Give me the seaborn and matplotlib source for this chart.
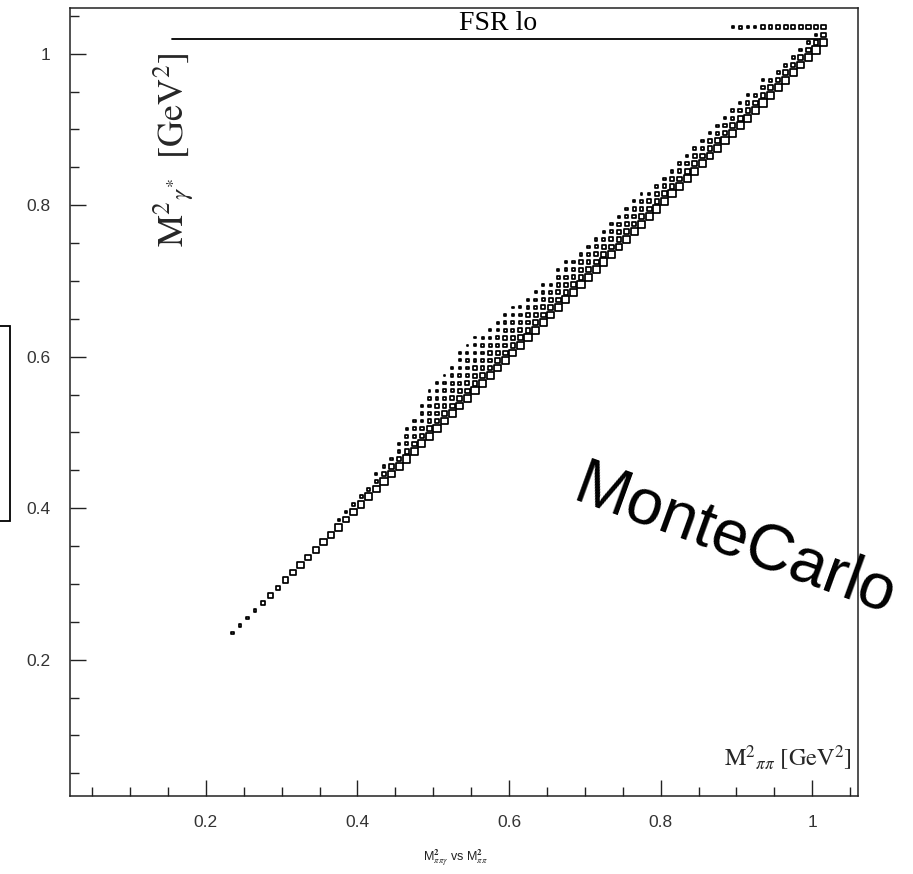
import numpy as np
import pandas as pd
import matplotlib
matplotlib.use("Agg")
import matplotlib.pyplot as plt
import seaborn as sns
from matplotlib.patches import Rectangle
from matplotlib.ticker import MultipleLocator, FixedLocator

# ---------------- data ----------------
bin_width = 0.01
axis_range = (0.02, 1.06)

# relative box side (0..1) along the diagonal y = x + k*bin_width
diag0_start = 0.235
diag0 = [0.3, 0.3, 0.3, 0.3, 0.5, 0.65, 0.5, 0.7, 0.65, 0.8,
         0.7, 0.8, 0.8, 0.75, 0.85, 0.7, 0.85, 0.8, 0.85, 0.8,
         0.9, 0.8, 0.85, 0.9, 0.85, 0.9, 0.85, 0.9, 0.85, 0.9,
         0.85, 0.9, 0.9, 0.85, 0.9, 0.85, 0.9, 0.85, 0.9, 0.9,
         0.85, 0.9, 0.85, 0.9, 0.9, 0.85, 0.9, 0.9, 0.85, 0.9,
         0.9, 0.85, 0.9, 0.9, 0.85, 0.9, 0.9, 0.85, 0.9, 0.9,
         0.85, 0.9, 0.9, 0.85, 0.9, 0.9, 0.85, 0.9, 0.9, 0.85,
         0.9, 0.9, 0.85, 0.9, 0.9, 0.85, 0.9, 0.9, 0.85]
diag1_start = 0.375
diag1 = [0.25, 0.3, 0.35, 0.35, 0.4, 0.45, 0.5, 0.55, 0.55, 0.55,
         0.55, 0.55, 0.55, 0.6, 0.55, 0.6, 0.6, 0.55, 0.6, 0.6,
         0.55, 0.6, 0.6, 0.55, 0.6, 0.6, 0.55, 0.6, 0.6, 0.55,
         0.6, 0.6, 0.6, 0.55, 0.6, 0.6, 0.55, 0.6, 0.6, 0.55,
         0.6, 0.6, 0.55, 0.6, 0.6, 0.55, 0.6, 0.6, 0.55, 0.6,
         0.6, 0.55, 0.6, 0.6, 0.55, 0.6, 0.55, 0.6, 0.55, 0.6,
         0.55, 0.6, 0.55, 0.6, 0.55]
diag2_start = 0.425
diag2 = [0.25, 0.35, 0.35, 0.3, 0.35, 0.4, 0.4, 0.45, 0.45, 0.45,
         0.5, 0.45, 0.5, 0.5, 0.45, 0.5, 0.5, 0.45, 0.5, 0.5,
         0.45, 0.5, 0.5, 0.45, 0.5, 0.45, 0.5, 0.5, 0.45, 0.5,
         0.45, 0.5, 0.45, 0.5, 0.45, 0.45, 0.5, 0.45, 0.45, 0.5,
         0.45, 0.45, 0.5, 0.45, 0.45, 0.4, 0.45, 0.4, 0.45, 0.4,
         0.35, 0.4, 0.35, 0.35, 0.4, 0.35, 0.35, 0.3, 0.3]
diag3_start = 0.455
diag3 = [0.3, 0.35, 0.35, 0.35, 0.35, 0.4, 0.4, 0.4, 0.4, 0.4,
         0.45, 0.4, 0.45, 0.4, 0.45, 0.4, 0.4, 0.45, 0.4, 0.4,
         0.4, 0.45, 0.4, 0.4, 0.4, 0.4, 0.35, 0.4, 0.35, 0.4,
         0.35, 0.4, 0.35, 0.3, 0.35, 0.3, 0.35, 0.3, 0.3, 0.35,
         0.3, 0.3, 0.3, 0.3, 0.3, 0.25, 0.25, 0.0, 0.25]
diag4_start = 0.465
diag4 = [0.25, 0.3, 0.3, 0.3, 0.35, 0.35, 0.35, 0.35, 0.35, 0.35,
         0.35, 0.35, 0.35, 0.35, 0.35, 0.35, 0.35, 0.35, 0.3, 0.3,
         0.35, 0.3, 0.3, 0.3, 0.3, 0.3, 0.3, 0.3, 0.25, 0.3,
         0.25, 0.2]
diag5_start = 0.485
diag5 = [0.25, 0.3, 0.3, 0.3, 0.3, 0.3, 0.35, 0.3, 0.3, 0.3,
         0.3, 0.3, 0.3, 0.25, 0.3, 0.25, 0.25, 0.0, 0.25, 0.2]
diag6_start = 0.495
diag6 = [0.2, 0.25, 0.2, 0.25, 0.25, 0.25, 0.25, 0.25, 0.2, 0.25,
         0.2, 0.2]
diag7_start = 0.535
diag7 = [0.2, 0.2, 0.15]

# row at the upper edge (y = 1.035)
top_row_y = 1.035
top_row_start = 0.895
top_row = [0.25, 0.35, 0.25, 0.25, 0.45, 0.45, 0.45, 0.55, 0.5, 0.55,
           0.55, 0.55, 0.55]

# FSR lo line
fsr_line_x = [0.155, 1.01]
fsr_line_y = [1.02, 1.02]

x_ticks = [0.2, 0.4, 0.6, 0.8, 1.0]
x_tick_labels = ["0.2", "0.4", "0.6", "0.8", "1"]
y_ticks = [0.2, 0.4, 0.6, 0.8, 1.0]
y_tick_labels = ["0.2", "0.4", "0.6", "0.8", "1"]

# ---------------- build table ----------------
diagonals = [(diag0_start, diag0), (diag1_start, diag1), (diag2_start, diag2),
             (diag3_start, diag3), (diag4_start, diag4), (diag5_start, diag5),
             (diag6_start, diag6), (diag7_start, diag7)]
rows = []
for k, (start, vals) in enumerate(diagonals):
    for j, v in enumerate(vals):
        if v > 0:
            x = start + j * bin_width
            rows.append((x, x + k * bin_width, v))
for j, v in enumerate(top_row):
    if v > 0:
        rows.append((top_row_start + j * bin_width, top_row_y, v))
df = pd.DataFrame(rows, columns=["x", "y", "side"])
df["area"] = df["side"] ** 2

# ---------------- figure ----------------
W, H, DPI = 913, 874, 100
sns.set_style("white")
plt.rcParams["font.family"] = ["Liberation Sans", "DejaVu Sans"]
plt.rcParams["mathtext.fontset"] = "stix"

fig = plt.figure(figsize=(W / DPI, H / DPI), dpi=DPI)
ax_l, ax_r, ax_t, ax_b = 69.5, 857.7, 8.3, 796.0
ax = fig.add_axes([ax_l / W, 1 - ax_b / H, (ax_r - ax_l) / W, (ax_b - ax_t) / H])
ax.set_xlim(*axis_range)
ax.set_ylim(*axis_range)

px_per_unit = (ax_r - ax_l) / (axis_range[1] - axis_range[0])
full_side_pt = 1.05 * bin_width * px_per_unit * 72.0 / DPI
sns.scatterplot(data=df, x="x", y="y", size="area",
                sizes=(0, full_side_pt ** 2), size_norm=(0, 1),
                marker="s", facecolor="none", edgecolor="black",
                linewidth=1.25, legend=False, ax=ax)

ax.plot(fsr_line_x, fsr_line_y, color="black", lw=1.3)
ax.text(0.585, 1.031, "FSR lo", ha="center", va="baseline",
        fontsize=20, family="Liberation Serif", color="black")

# axes style
for s in ax.spines.values():
    s.set_color("#222222")
    s.set_linewidth(1.1)
ax.xaxis.set_major_locator(FixedLocator(x_ticks))
ax.yaxis.set_major_locator(FixedLocator(y_ticks))
ax.set_xticklabels(x_tick_labels)
ax.set_yticklabels(y_tick_labels)
ax.xaxis.set_minor_locator(MultipleLocator(0.05))
ax.yaxis.set_minor_locator(MultipleLocator(0.05))
ax.tick_params(which="both", direction="in", top=False, right=False,
               bottom=True, left=True, color="#222222", width=1.0)
ax.tick_params(which="major", length=11.3, labelsize=12.5, pad=13.5,
               labelcolor="#333333")
ax.tick_params(which="minor", length=6.5)
ax.set_xlabel("")
ax.set_ylabel("")
ax.grid(False)

# labels inside the frame
fig.text(174 / W, 1 - 150 / H,
         r"$\mathrm{M}^{2}{}_{\gamma^{*}}\ \ [\mathrm{GeV}^{2}]$",
         rotation=90, ha="center", va="center", fontsize=26)
fig.text(788 / W, 1 - 758 / H,
         r"$\mathrm{M}^{2}{}_{\pi\pi}\ [\mathrm{GeV}^{2}]$",
         ha="center", va="center", fontsize=17.5)

# watermark
fig.text(571 / W, 1 - 500 / H, "MonteCarlo", rotation=-20,
         rotation_mode="anchor", ha="left", va="baseline",
         fontsize=47, family="Liberation Sans", color="black")

# histogram title below
fig.text(455 / W, 1 - 858 / H,
         r"M$_{\pi\pi\gamma}^{\mathbf{2}}$ vs M$_{\pi\pi}^{\mathbf{2}}$",
         ha="center", va="center", fontsize=9, color="#222222")

# clipped box at the left edge
fig.add_artist(Rectangle((-5 / W, 1 - 521 / H), 15 / W, 195 / H,
                         transform=fig.transFigure, fill=False,
                         lw=1.3, edgecolor="black", clip_on=False))

fig.savefig("out.png", dpi=DPI)
